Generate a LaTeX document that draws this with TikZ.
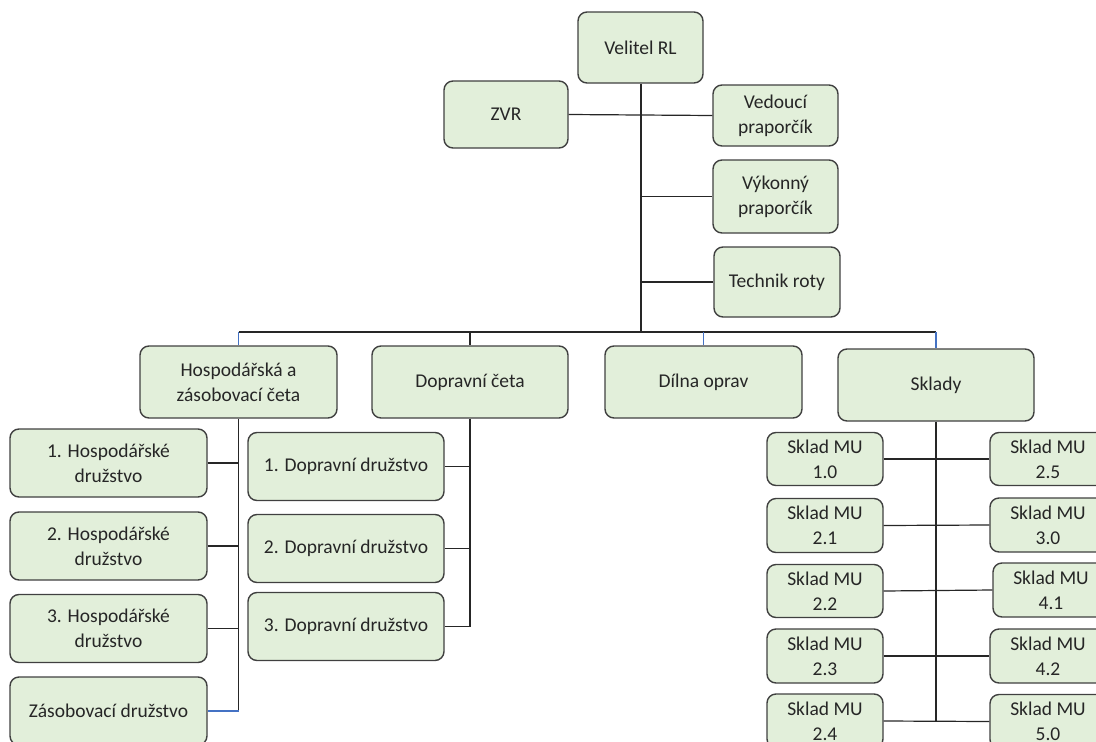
\documentclass[tikz,border=0pt]{standalone}
\usepackage{fontspec}
\setmainfont{Carlito}
\definecolor{boxfill}{HTML}{E2EFDA}
\definecolor{boxdraw}{HTML}{404040}
\definecolor{txt}{HTML}{262626}
\definecolor{bluel}{HTML}{4472C4}
\begin{document}
\begin{tikzpicture}[x=1pt,y=-1pt,
  box/.style={draw=boxdraw, fill=boxfill, line width=1.4pt, rounded corners=9pt,
    inner sep=0pt, align=center, text=txt,
    font=\fontsize{19.5}{25}\selectfont},
  conn/.style={draw=black!85, line width=1.2pt},
  bconn/.style={draw=bluel, line width=1.2pt}]
\useasboundingbox (0,0) rectangle (1096,742);
\clip (0,0) rectangle (1096,742);
% top level
\node[box, minimum width=125pt, minimum height=71pt] (vel) at (640.5,47.5) {Velitel RL};
\node[box, minimum width=124pt, minimum height=67pt] (zvr) at (506,114.5) {ZVR};
\node[box, minimum width=125pt, minimum height=61pt] (ved) at (775.5,115.5) {Vedoucí\\praporčík};
\node[box, minimum width=125pt, minimum height=73pt] (vyk) at (775.5,196.5) {Výkonný\\praporčík};
\node[box, minimum width=126pt, minimum height=70pt] (tech) at (777,282) {Technik roty};
% second level
\node[box, minimum width=197pt, minimum height=72pt] (hzc) at (238.5,382) {Hospodářská a\\zásobovací četa};
\node[box, minimum width=196pt, minimum height=72pt] (dc) at (470,382) {Dopravní četa};
\node[box, minimum width=197pt, minimum height=72pt] (dil) at (703.5,382) {Dílna oprav};
\node[box, minimum width=196pt, minimum height=72pt] (skl) at (936,385) {Sklady};
% Hospodarska column
\node[box, minimum width=197pt, minimum height=68pt] (h1) at (108.5,463) {1. Hospodářské\\družstvo};
\node[box, minimum width=197pt, minimum height=68pt] (h2) at (108.5,546) {2. Hospodářské\\družstvo};
\node[box, minimum width=197pt, minimum height=68pt] (h3) at (108.5,628.5) {3. Hospodářské\\družstvo};
\node[box, minimum width=197pt, minimum height=68pt] (zas) at (108.5,711) {Zásobovací družstvo};
% Dopravni column
\node[box, minimum width=196pt, minimum height=68pt] (d1) at (346,466.5) {1. Dopravní družstvo};
\node[box, minimum width=196pt, minimum height=68pt] (d2) at (346,548.5) {2. Dopravní družstvo};
\node[box, minimum width=196pt, minimum height=68pt] (d3) at (346,626.5) {3. Dopravní družstvo};
% Sklady
\node[box, minimum width=116pt, minimum height=53pt] (s10) at (825,459) {Sklad MU\\1.0};
\node[box, minimum width=116pt, minimum height=54pt] (s21) at (825,525.5) {Sklad MU\\2.1};
\node[box, minimum width=116pt, minimum height=53pt] (s22) at (825,591) {Sklad MU\\2.2};
\node[box, minimum width=116pt, minimum height=54pt] (s23) at (825,656) {Sklad MU\\2.3};
\node[box, minimum width=116pt, minimum height=54pt] (s24) at (825,721) {Sklad MU\\2.4};
\node[box, minimum width=116pt, minimum height=53pt] (s25) at (1048,459) {Sklad MU\\2.5};
\node[box, minimum width=116pt, minimum height=54pt] (s30) at (1048,525) {Sklad MU\\3.0};
\node[box, minimum width=116pt, minimum height=54pt] (s41) at (1051,590) {Sklad MU\\4.1};
\node[box, minimum width=116pt, minimum height=54pt] (s42) at (1048,656) {Sklad MU\\4.2};
\node[box, minimum width=116pt, minimum height=54pt] (s50) at (1048,721.5) {Sklad MU\\5.0};
% connectors top
\coordinate (bus) at (641,332);
\draw[conn] (vel.south -| bus) -- (bus);
\draw[conn] (zvr.east) -- (ved.west);
\draw[conn] (vyk.west -| bus) -- (vyk.west);
\draw[conn] (tech.west -| bus) -- (tech.west);
\draw[conn] (hzc.north |- bus) -- (skl.north |- bus);
\draw[bconn] (hzc.north |- bus) -- (hzc.north);
\draw[conn] (dc.north |- bus) -- (dc.north);
\draw[bconn] (dil.north |- bus) -- (dil.north);
\draw[bconn] (skl.north |- bus) -- (skl.north);
% Hospodarska
\draw[conn] (hzc.south) -- (hzc.south |- zas.east);
\draw[conn] (h1.east) -- (h1.east -| hzc.south);
\draw[conn] (h2.east) -- (h2.east -| hzc.south);
\draw[conn] (h3.east) -- (h3.east -| hzc.south);
\draw[bconn] (zas.east) -- (zas.east -| hzc.south);
% Dopravni
\draw[conn] (dc.south) -- (dc.south |- d3.east);
\draw[conn] (d1.east) -- (d1.east -| dc.south);
\draw[conn] (d2.east) -- (d2.east -| dc.south);
\draw[conn] (d3.east) -- (d3.east -| dc.south);
% Sklady
\draw[conn] (skl.south) -- (skl.south |- s24.east);
\draw[conn] (s10.east) -- (s25.west);
\draw[conn] (s21.east) -- (s30.west);
\draw[conn] (s22.east) -- (s41.west);
\draw[conn] (s23.east) -- (s42.west);
\draw[conn] (s24.east) -- (s50.west);
\end{tikzpicture}
\end{document}
